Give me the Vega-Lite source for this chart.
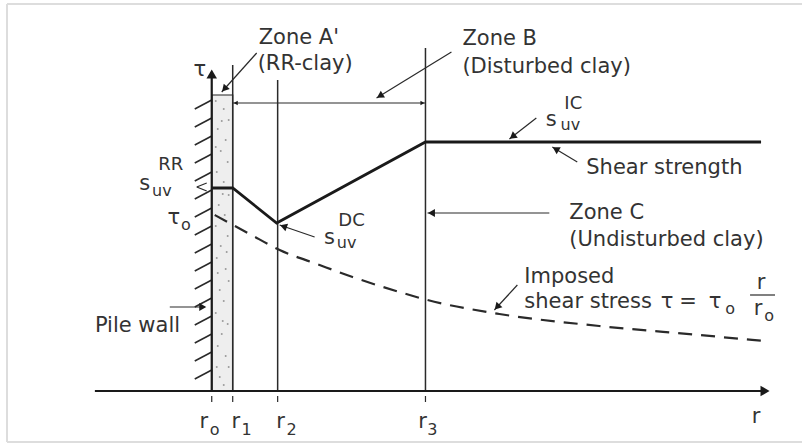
{
  "$schema": "https://vega.github.io/schema/vega-lite/v6.json",
  "width": 803,
  "height": 443,
  "padding": 0,
  "autosize": {"type": "fit", "contains": "padding"},
  "background": "white",
  "config": {"view": {"stroke": null}},
  "datasets": {
    "frame": [
      {"x": -205, "y": 387, "x2": 591, "y2": 387},
      {"x": -205, "y": 387, "x2": -205, "y2": -51},
      {"x": -205, "y": -51, "x2": 591, "y2": -51}
    ],
    "zone": [{"x": 0, "y": 0, "x2": 21, "y2": 296}],
    "dots": [
      {"x": 4, "y": 290}, {"x": 12, "y": 282}, {"x": 17, "y": 271}, {"x": 6, "y": 262},
      {"x": 14, "y": 251}, {"x": 9, "y": 240}, {"x": 16, "y": 229}, {"x": 5, "y": 219},
      {"x": 12, "y": 209}, {"x": 17, "y": 196}, {"x": 7, "y": 186}, {"x": 13, "y": 176},
      {"x": 4, "y": 165}, {"x": 16, "y": 155}, {"x": 9, "y": 145}, {"x": 5, "y": 133},
      {"x": 14, "y": 122}, {"x": 17, "y": 110}, {"x": 8, "y": 101}, {"x": 12, "y": 90},
      {"x": 4, "y": 78}, {"x": 16, "y": 67}, {"x": 10, "y": 57}, {"x": 6, "y": 45},
      {"x": 14, "y": 35}, {"x": 17, "y": 24}, {"x": 8, "y": 14}, {"x": 12, "y": 6},
      {"x": 10, "y": 270}, {"x": 4, "y": 244}, {"x": 11, "y": 197}, {"x": 15, "y": 139},
      {"x": 6, "y": 118}, {"x": 11, "y": 70}, {"x": 5, "y": 24}
    ],
    "axes": [
      {"x": -117, "y": 0, "x2": 556, "y2": 0},
      {"x": 0, "y": 0, "x2": 0, "y2": 319}
    ],
    "radii": [
      {"x": 21, "y": 0, "x2": 21, "y2": 326},
      {"x": 66, "y": 0, "x2": 66, "y2": 311},
      {"x": 214, "y": 0, "x2": 214, "y2": 343}
    ],
    "thin": [
      {"x": 21, "y": 288, "x2": 214, "y2": 288},
      {"x": 45, "y": 338, "x2": 10, "y2": 299},
      {"x": 240, "y": 339, "x2": 165, "y2": 293},
      {"x": 325, "y": 273, "x2": 298, "y2": 252},
      {"x": 366, "y": 229, "x2": 341, "y2": 244},
      {"x": 338, "y": 178, "x2": 216, "y2": 178},
      {"x": 103, "y": 154, "x2": 68, "y2": 166},
      {"x": 306, "y": 106, "x2": 283, "y2": 81},
      {"x": -42, "y": 84, "x2": -7, "y2": 84},
      {"x": -15, "y": 204, "x2": -5, "y2": 208},
      {"x": -15, "y": 204, "x2": -5, "y2": 200},
      {"x": 539, "y": 96, "x2": 564, "y2": 96},
      {"x": 0, "y": -5, "x2": 0, "y2": -11},
      {"x": 21, "y": -5, "x2": 21, "y2": -11},
      {"x": 66, "y": -5, "x2": 66, "y2": -11},
      {"x": 214, "y": -5, "x2": 214, "y2": -11}
    ],
    "hatch": [
      {"x": 0, "y": 291, "x2": -17, "y2": 282},
      {"x": 0, "y": 273, "x2": -17, "y2": 264},
      {"x": 0, "y": 255, "x2": -17, "y2": 246},
      {"x": 0, "y": 237, "x2": -17, "y2": 228},
      {"x": 0, "y": 219, "x2": -17, "y2": 210},
      {"x": 0, "y": 201, "x2": -17, "y2": 192},
      {"x": 0, "y": 183, "x2": -17, "y2": 174},
      {"x": 0, "y": 165, "x2": -17, "y2": 156},
      {"x": 0, "y": 147, "x2": -17, "y2": 138},
      {"x": 0, "y": 129, "x2": -17, "y2": 120},
      {"x": 0, "y": 111, "x2": -17, "y2": 102},
      {"x": 0, "y": 93, "x2": -17, "y2": 84},
      {"x": 0, "y": 75, "x2": -17, "y2": 66},
      {"x": 0, "y": 57, "x2": -17, "y2": 48},
      {"x": 0, "y": 39, "x2": -17, "y2": 30},
      {"x": 0, "y": 21, "x2": -17, "y2": 12}
    ],
    "strength": [
      {"x": 0, "y": 203}, {"x": 21, "y": 203}, {"x": 65, "y": 168},
      {"x": 214, "y": 249}, {"x": 550, "y": 249}
    ],
    "stress": [
      {"x": 3, "y": 176}, {"x": 38, "y": 157}, {"x": 68, "y": 141}, {"x": 108, "y": 126},
      {"x": 141, "y": 114}, {"x": 188, "y": 99}, {"x": 216, "y": 91}, {"x": 288, "y": 77},
      {"x": 388, "y": 65}, {"x": 488, "y": 56}, {"x": 553, "y": 50}
    ],
    "axisArrows": [
      {"x": 554, "y": 0, "dir": 90},
      {"x": 0, "y": 317, "dir": 0}
    ],
    "arrows": [
      {"x": 12.7, "y": 302, "dir": 222},
      {"x": 168.4, "y": 295.1, "dir": 238.5},
      {"x": 301.2, "y": 254.4, "dir": 232},
      {"x": 344.4, "y": 242, "dir": 301},
      {"x": 220, "y": 178, "dir": 270},
      {"x": 71.8, "y": 164.7, "dir": 289},
      {"x": 285.7, "y": 84, "dir": 222.6},
      {"x": -9, "y": 84, "dir": 90}
    ],
    "smallArrows": [
      {"x": 24, "y": 288, "dir": 270},
      {"x": 211, "y": 288, "dir": 90}
    ],
    "leftText": [
      {"x": 47, "y": 353, "t": "Zone A'"},
      {"x": 46, "y": 327, "t": "(RR-clay)"},
      {"x": 251, "y": 352, "t": "Zone B"},
      {"x": 251, "y": 324, "t": "(Disturbed clay)"},
      {"x": 375, "y": 223, "t": "Shear strength"},
      {"x": 358, "y": 178, "t": "Zone C"},
      {"x": 358, "y": 151, "t": "(Undisturbed clay)"},
      {"x": 313, "y": 114, "t": "Imposed"},
      {"x": 313, "y": 89, "t": "shear stress"},
      {"x": -117, "y": 65, "t": "Pile wall"}
    ],
    "centerText": [
      {"x": -12, "y": 321, "t": "τ"},
      {"x": 456, "y": 89, "t": "τ"},
      {"x": 477, "y": 89, "t": "="},
      {"x": 504, "y": 89, "t": "τ"},
      {"x": 550, "y": 108, "t": "r"},
      {"x": 547, "y": 82, "t": "r"},
      {"x": -67, "y": 207, "t": "s"},
      {"x": -38, "y": 173, "t": "τ"},
      {"x": 118, "y": 153, "t": "s"},
      {"x": 340, "y": 271, "t": "s"},
      {"x": -8, "y": -31, "t": "r"},
      {"x": 24, "y": -31, "t": "r"},
      {"x": 69, "y": -31, "t": "r"},
      {"x": 211, "y": -31, "t": "r"},
      {"x": 545, "y": -26, "t": "r"}
    ],
    "supText": [
      {"x": -41, "y": 226, "t": "RR"},
      {"x": 140, "y": 170, "t": "DC"},
      {"x": 362, "y": 287, "t": "IC"}
    ],
    "subText": [
      {"x": -50, "y": 200, "t": "uv"},
      {"x": -26, "y": 166, "t": "o"},
      {"x": 135, "y": 148, "t": "uv"},
      {"x": 359, "y": 266, "t": "uv"},
      {"x": 519, "y": 82, "t": "o"},
      {"x": 558, "y": 75, "t": "o"},
      {"x": 3, "y": -39, "t": "o"},
      {"x": 35, "y": -39, "t": "1"},
      {"x": 80, "y": -39, "t": "2"},
      {"x": 221, "y": -39, "t": "3"}
    ]
  },
  "encoding": {
    "x": {"field": "x", "type": "quantitative", "scale": {"domain": [-212, 591], "nice": false, "zero": false}, "axis": null},
    "y": {"field": "y", "type": "quantitative", "scale": {"domain": [-52, 391], "nice": false, "zero": false}, "axis": null}
  },
  "layer": [
    {"data": {"name": "frame"}, "mark": {"type": "rule", "color": "#dddddd", "strokeWidth": 2},
     "encoding": {"x2": {"field": "x2"}, "y2": {"field": "y2"}}},
    {"data": {"name": "zone"}, "mark": {"type": "rect", "fill": "#eeeeee", "stroke": "#222222", "strokeWidth": 1.2},
     "encoding": {"x2": {"field": "x2"}, "y2": {"field": "y2"}}},
    {"data": {"name": "dots"}, "mark": {"type": "point", "filled": true, "color": "#9a9a9a", "size": 4, "opacity": 1}},
    {"data": {"name": "hatch"}, "mark": {"type": "rule", "color": "#2a2a2a", "strokeWidth": 1.6},
     "encoding": {"x2": {"field": "x2"}, "y2": {"field": "y2"}}},
    {"data": {"name": "radii"}, "mark": {"type": "rule", "color": "#2a2a2a", "strokeWidth": 1.5},
     "encoding": {"x2": {"field": "x2"}, "y2": {"field": "y2"}}},
    {"data": {"name": "axes"}, "mark": {"type": "rule", "color": "#1a1a1a", "strokeWidth": 2.2},
     "encoding": {"x2": {"field": "x2"}, "y2": {"field": "y2"}}},
    {"data": {"name": "thin"}, "mark": {"type": "rule", "color": "#2a2a2a", "strokeWidth": 1.2},
     "encoding": {"x2": {"field": "x2"}, "y2": {"field": "y2"}}},
    {"data": {"name": "strength"}, "mark": {"type": "line", "color": "#1a1a1a", "strokeWidth": 2.8}, "encoding": {}},
    {"data": {"name": "stress"}, "mark": {"type": "line", "color": "#2a2a2a", "strokeWidth": 2.2, "strokeDash": [14, 9], "interpolate": "monotone"}, "encoding": {}},
    {"data": {"name": "axisArrows"}, "mark": {"type": "point", "shape": "triangle-up", "filled": true, "color": "#1a1a1a", "size": 110, "opacity": 1},
     "encoding": {"angle": {"field": "dir", "type": "quantitative", "scale": null}}},
    {"data": {"name": "arrows"}, "mark": {"type": "point", "shape": "triangle-up", "filled": true, "color": "#1a1a1a", "size": 65, "opacity": 1},
     "encoding": {"angle": {"field": "dir", "type": "quantitative", "scale": null}}},
    {"data": {"name": "smallArrows"}, "mark": {"type": "point", "shape": "triangle-up", "filled": true, "color": "#1a1a1a", "size": 22, "opacity": 1},
     "encoding": {"angle": {"field": "dir", "type": "quantitative", "scale": null}}},
    {"data": {"name": "leftText"}, "mark": {"type": "text", "align": "left", "baseline": "middle", "font": "DejaVu Sans", "fontSize": 21, "color": "#333333"},
     "encoding": {"text": {"field": "t"}}},
    {"data": {"name": "centerText"}, "mark": {"type": "text", "align": "center", "baseline": "middle", "font": "DejaVu Sans", "fontSize": 21, "color": "#333333"},
     "encoding": {"text": {"field": "t"}}},
    {"data": {"name": "supText"}, "mark": {"type": "text", "align": "center", "baseline": "middle", "font": "DejaVu Sans", "fontSize": 18, "color": "#333333"},
     "encoding": {"text": {"field": "t"}}},
    {"data": {"name": "subText"}, "mark": {"type": "text", "align": "center", "baseline": "middle", "font": "DejaVu Sans", "fontSize": 16, "color": "#333333"},
     "encoding": {"text": {"field": "t"}}}
  ]
}
